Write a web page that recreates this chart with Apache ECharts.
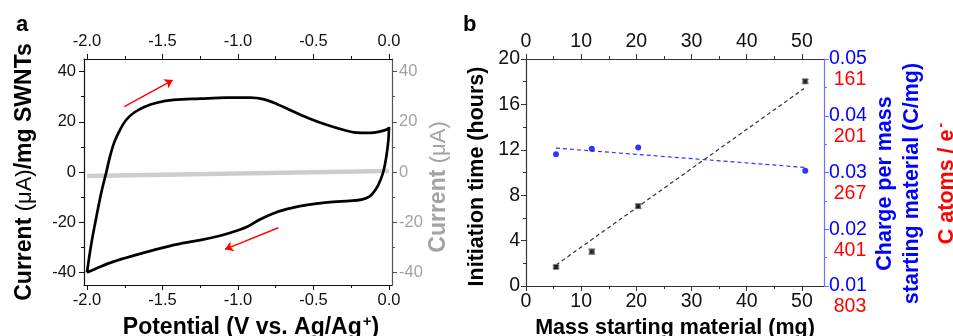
<!DOCTYPE html>
<html>
<head>
<meta charset="utf-8">
<script src="https://cdn.jsdelivr.net/npm/echarts@6/dist/echarts.min.js"></script>
<style>
html,body{margin:0;padding:0;background:#fff;}
#chart{width:953px;height:336px;}
</style>
</head>
<body>
<div id="chart"></div>
<script>
// ---------- Panel a: cyclic voltammogram ----------
const cvPotential = [-2.000,-1.971,-1.938,-1.907,-1.872,-1.846,-1.819,-1.784,-1.740,-1.687,-1.621,-1.537,-1.427,-1.251,-1.075,-0.921,-0.833,-0.744,-0.634,-0.524,-0.414,-0.304,-0.216,-0.128,-0.062,-0.007,0.000,
  -0.004,-0.018,-0.035,-0.057,-0.088,-0.128,-0.183,-0.260,-0.370,-0.480,-0.590,-0.678,-0.767,-0.855,-0.932,-1.009,-1.119,-1.251,-1.405,-1.559,-1.692,-1.824,-1.912,-2.000];
const cvCurrent = [-40.0,-28.4,-17.9,-8.6,0.0,6.6,11.9,16.5,20.8,23.7,25.9,27.6,28.7,29.2,29.6,29.6,29.0,27.1,24.1,21.2,18.8,16.8,15.7,15.6,16.1,17.1,17.9,
  12.6,6.0,0.7,-3.3,-7.0,-9.7,-11.0,-11.5,-11.9,-12.6,-13.6,-14.8,-16.5,-18.9,-21.6,-23.4,-25.4,-27.1,-28.8,-31.1,-33.3,-35.7,-37.7,-40.0];
const blankPotential = [-2.0,-1.5,-1.0,-0.5,0.0];
const blankCurrent = [-1.6,-1.1,-0.6,-0.1,0.4];
const sweepArrowUp = [[-1.753, 26.0], [-1.432, 36.6]];
const sweepArrowDown = [[-0.733, -22.2], [-1.086, -30.8]];
const potentialTicks = [-2.0,-1.5,-1.0,-0.5,0.0];
const potentialMinorTicks = [-1.75,-1.25,-0.75,-0.25];
const currentTicks = [-40,-20,0,20,40];
const currentMinorTicks = [-30,-10,10,30];

// ---------- Panel b: initiation time / charge ----------
const massMg = [5.44, 11.92, 20.33, 50.6];
const initiationHours = [1.68, 3.03, 7.03, 18.03];
const hoursError = [0.12, 0.22, 0.18, 0.18];
const chargePerMass = [0.0332, 0.0342, 0.0344, 0.0303];
const timeFitMass = [5.44, 50.4];
const timeFitHours = [1.85, 17.4];
const chargeFitMass = [5.44, 50.45];
const chargeFitValues = [0.0343, 0.0309];
const massTicks = [0, 10, 20, 30, 40, 50];
const massMinorTicks = [5, 15, 25, 35, 45];
const chargeTicks = [0.01, 0.02, 0.03, 0.04, 0.05];
const carbonPerElectron = ['803', '401', '267', '201', '161'];

const FONT = 'Liberation Sans, Arial, Helvetica, sans-serif';
const chart = echarts.init(document.getElementById('chart'), null, {renderer: 'canvas'});

function fmt1(v) { return (Math.abs(v) < 1e-9 ? 0 : v).toFixed(1); }

const leftAxisColor = '#111';
const grayLabel = '#a3a3a3';
const blue = '#0000ff';
const red = '#ff0000';
const FS_A = 16.5;
const FS_B = 19.5;

function minorAxis(base, values, color) {
  return Object.assign({
    type: 'value',
    axisLine: {show: false, onZero: false}, axisLabel: {show: false}, splitLine: {show: false},
    axisTick: {show: true, customValues: values, length: 3, lineStyle: {color: color}}
  }, base);
}

const option = {
  animation: false,
  backgroundColor: '#fff',
  textStyle: {fontFamily: FONT},
  title: [
    {text: 'a', left: 16, top: 14, padding: 0, textStyle: {fontSize: 22, fontWeight: 'bold', color: '#000', fontFamily: FONT}},
    {text: 'b', left: 463, top: 14, padding: 0, textStyle: {fontSize: 22, fontWeight: 'bold', color: '#000', fontFamily: FONT}}
  ],
  grid: [
    {left: 84, top: 59, width: 308, height: 226, containLabel: false, outerBoundsMode: 'none'},
    {left: 526, top: 59, width: 298, height: 227, containLabel: false, outerBoundsMode: 'none'}
  ],
  xAxis: [
    { // 0 panel a bottom
      type: 'value', gridIndex: 0, position: 'bottom', min: -2.02, max: 0.02,
      axisLine: {show: true, onZero: false, lineStyle: {color: leftAxisColor, width: 1.2}},
      axisTick: {show: true, customValues: potentialTicks, length: 5, lineStyle: {color: leftAxisColor}},
      axisLabel: {show: true, customValues: potentialTicks, formatter: fmt1, fontSize: FS_A, color: '#111', margin: 7, fontFamily: FONT},
      splitLine: {show: false},
      name: '{b|Potential (V vs. Ag/Ag}{sup|+}{b|)}',
      nameLocation: 'middle', nameGap: 25,
      nameTextStyle: {padding: [0, 0, 0, 26], rich: {
        b: {fontSize: 23, fontWeight: 'bold', color: '#000', fontFamily: FONT},
        sup: {fontSize: 15, fontWeight: 'bold', color: '#000', fontFamily: FONT, padding: [0, 0, 12, 1]}
      }}
    },
    { // 1 panel a top
      type: 'value', gridIndex: 0, position: 'top', min: -2.02, max: 0.02,
      axisLine: {show: true, onZero: false, lineStyle: {color: leftAxisColor, width: 1.2}},
      axisTick: {show: true, customValues: potentialTicks, length: 5, lineStyle: {color: leftAxisColor}},
      axisLabel: {show: true, customValues: potentialTicks, formatter: fmt1, fontSize: FS_A, color: '#111', margin: 9, fontFamily: FONT},
      splitLine: {show: false}
    },
    minorAxis({gridIndex: 0, position: 'bottom', min: -2.02, max: 0.02}, potentialMinorTicks, leftAxisColor), // 2
    minorAxis({gridIndex: 0, position: 'top', min: -2.02, max: 0.02}, potentialMinorTicks, leftAxisColor),    // 3
    { // 4 panel b bottom
      type: 'value', gridIndex: 1, position: 'bottom', min: 0, max: 54,
      axisLine: {show: true, onZero: false, lineStyle: {color: '#333', width: 1.2}},
      axisTick: {show: true, customValues: massTicks, length: 5, lineStyle: {color: '#333'}},
      axisLabel: {customValues: massTicks, fontSize: FS_B, color: '#111', margin: 6, fontFamily: FONT},
      splitLine: {show: false},
      name: 'Mass starting material (mg)', nameLocation: 'middle', nameGap: 25,
      nameTextStyle: {fontSize: 21.5, fontWeight: 'bold', color: '#000', fontFamily: FONT}
    },
    { // 5 panel b top
      type: 'value', gridIndex: 1, position: 'top', min: 0, max: 54,
      axisLine: {show: true, onZero: false, lineStyle: {color: '#333', width: 1.2}},
      axisTick: {show: true, customValues: massTicks, length: 5, lineStyle: {color: '#333'}},
      axisLabel: {customValues: massTicks, fontSize: FS_B, color: '#111', margin: 7, fontFamily: FONT},
      splitLine: {show: false}
    },
    minorAxis({gridIndex: 1, position: 'bottom', min: 0, max: 54}, massMinorTicks, '#333'), // 6
    minorAxis({gridIndex: 1, position: 'top', min: 0, max: 54}, massMinorTicks, '#333')     // 7
  ],
  yAxis: [
    { // 0 panel a left
      type: 'value', gridIndex: 0, position: 'left', min: -45, max: 45,
      axisLine: {show: true, onZero: false, lineStyle: {color: leftAxisColor, width: 1.2}},
      axisTick: {show: true, customValues: currentTicks, length: 5, lineStyle: {color: leftAxisColor}},
      axisLabel: {show: true, customValues: currentTicks, fontSize: FS_A, color: '#111', margin: 8, fontFamily: FONT},
      splitLine: {show: false},
      name: '{b|Current }{m|(μA)}{b|/mg SWNTs}',
      nameLocation: 'middle', nameGap: 48,
      nameTextStyle: {rich: {
        b: {fontSize: 23, fontWeight: 'bold', color: '#000', fontFamily: FONT},
        m: {fontSize: 22, fontWeight: 'normal', color: '#000', fontFamily: FONT}
      }}
    },
    { // 1 panel a right (gray)
      type: 'value', gridIndex: 0, position: 'right', min: -45, max: 45,
      axisLine: {show: true, onZero: false, lineStyle: {color: '#555', width: 1.2}},
      axisTick: {show: true, customValues: currentTicks, length: 5, lineStyle: {color: '#555'}},
      axisLabel: {show: true, customValues: currentTicks, fontSize: FS_A, color: grayLabel, margin: 7, fontFamily: FONT},
      splitLine: {show: false},
      name: '{b|Current }{m|(μA)}',
      nameLocation: 'middle', nameGap: 35,
      nameTextStyle: {padding: [0, 30, 0, 0], rich: {
        b: {fontSize: 23, fontWeight: 'bold', color: grayLabel, fontFamily: FONT},
        m: {fontSize: 22, fontWeight: 'normal', color: grayLabel, fontFamily: FONT}
      }}
    },
    minorAxis({gridIndex: 0, position: 'left', min: -45, max: 45}, currentMinorTicks, leftAxisColor), // 2
    minorAxis({gridIndex: 0, position: 'right', min: -45, max: 45}, currentMinorTicks, '#555'),       // 3
    { // 4 panel b left
      type: 'value', gridIndex: 1, position: 'left', min: 0, max: 20, interval: 4,
      axisLine: {show: true, onZero: false, lineStyle: {color: '#333', width: 1.2}},
      axisTick: {show: true, length: 5, lineStyle: {color: '#333'}},
      minorTick: {show: true, splitNumber: 2, length: 3, lineStyle: {color: '#333'}},
      axisLabel: {fontSize: FS_B, color: '#111', margin: 6, fontFamily: FONT},
      splitLine: {show: false}, minorSplitLine: {show: false},
      name: 'Initiation time (hours)', nameLocation: 'middle', nameGap: 38,
      nameTextStyle: {fontSize: 21.5, fontWeight: 'bold', color: '#000', fontFamily: FONT, padding: [0, 8, 0, 0]}
    },
    { // 5 panel b right blue
      type: 'value', gridIndex: 1, position: 'right', min: 0.01, max: 0.05, interval: 0.01,
      axisLine: {show: true, onZero: false, lineStyle: {color: '#6f6fff', width: 1.2}},
      axisTick: {show: true, length: 5, lineStyle: {color: '#6f6fff'}},
      minorTick: {show: true, splitNumber: 2, length: 3, lineStyle: {color: '#6f6fff'}},
      axisLabel: {fontSize: FS_B, color: blue, margin: 5, fontFamily: FONT, formatter: v => v.toFixed(2)},
      splitLine: {show: false}, minorSplitLine: {show: false},
      name: 'Charge per mass\nstarting material (C/mg)', nameLocation: 'middle', nameGap: 48,
      nameTextStyle: {fontSize: 21.5, fontWeight: 'bold', color: blue, lineHeight: 27, fontFamily: FONT, padding: [0, 22, 0, 0]}
    },
    { // 6 panel b right red (C atoms per electron)
      type: 'value', gridIndex: 1, position: 'right', min: 0.01, max: 0.05, interval: 0.01,
      axisLine: {show: false, onZero: false}, axisTick: {show: false},
      axisLabel: {margin: 26, align: 'center', fontFamily: FONT,
        formatter: v => '{r|' + (carbonPerElectron[Math.round((v - chargeTicks[0]) / 0.01)] || '') + '}',
        rich: {r: {fontSize: FS_B, color: red, fontFamily: FONT, padding: [42, 0, 0, 0]}}},
      splitLine: {show: false},
      name: '{b|C atoms / e}{sup|-}', nameLocation: 'middle', nameGap: 110,
      nameTextStyle: {padding: [0, 22, 0, 0], rich: {
        b: {fontSize: 21.5, fontWeight: 'bold', color: red, fontFamily: FONT},
        sup: {fontSize: 14, fontWeight: 'bold', color: red, fontFamily: FONT, padding: [0, 0, 12, 2]}
      }}
    }
  ],
  series: [
    {
      name: 'blank', type: 'line', xAxisIndex: 0, yAxisIndex: 1,
      data: blankPotential.map((v, i) => [v, blankCurrent[i]]),
      symbol: 'none', lineStyle: {color: '#cdcdcd', width: 4.5}, silent: true, z: 2
    },
    {
      name: 'CV', type: 'line', xAxisIndex: 0, yAxisIndex: 0,
      data: cvPotential.map((v, i) => [v, cvCurrent[i]]),
      symbol: 'none', smooth: 0.35, lineStyle: {color: '#000', width: 2.7}, silent: true, z: 3,
      markLine: {
        silent: true, symbol: ['none', 'arrow'], symbolSize: 8,
        label: {show: false},
        lineStyle: {color: red, width: 1.4, type: 'solid'},
        emphasis: {disabled: true},
        data: [
          [{coord: sweepArrowUp[0]}, {coord: sweepArrowUp[1]}],
          [{coord: sweepArrowDown[0]}, {coord: sweepArrowDown[1]}]
        ]
      }
    },
    {
      name: 'time fit', type: 'line', xAxisIndex: 4, yAxisIndex: 4,
      data: timeFitMass.map((v, i) => [v, timeFitHours[i]]),
      symbol: 'none', lineStyle: {color: '#333', width: 1.2, type: [4, 3]}, silent: true, z: 2
    },
    {
      name: 'charge fit', type: 'line', xAxisIndex: 4, yAxisIndex: 5,
      data: chargeFitMass.map((v, i) => [v, chargeFitValues[i]]),
      symbol: 'none', lineStyle: {color: '#3333ff', width: 1.2, type: [4, 3]}, silent: true, z: 2
    },
    {
      name: 'time error', type: 'custom', xAxisIndex: 4, yAxisIndex: 4,
      data: massMg.map((m, i) => [m, initiationHours[i], hoursError[i]]),
      renderItem: function (params, api) {
        const x = api.value(0), y = api.value(1), e = api.value(2);
        const top = api.coord([x, y + e]);
        const bot = api.coord([x, y - e]);
        const hw = 3.5;
        const st = {stroke: '#8c8c8c', lineWidth: 1.3};
        return {type: 'group', children: [
          {type: 'line', shape: {x1: top[0], y1: top[1], x2: bot[0], y2: bot[1]}, style: st},
          {type: 'line', shape: {x1: top[0] - hw, y1: top[1], x2: top[0] + hw, y2: top[1]}, style: st},
          {type: 'line', shape: {x1: bot[0] - hw, y1: bot[1], x2: bot[0] + hw, y2: bot[1]}, style: st}
        ]};
      },
      silent: true, z: 3
    },
    {
      name: 'initiation time', type: 'scatter', xAxisIndex: 4, yAxisIndex: 4,
      data: massMg.map((m, i) => [m, initiationHours[i]]),
      symbol: 'rect', symbolSize: 5, itemStyle: {color: '#000', borderColor: '#7a7a7a', borderWidth: 1}, silent: true, z: 4
    },
    {
      name: 'charge per mass', type: 'scatter', xAxisIndex: 4, yAxisIndex: 5,
      data: massMg.map((m, i) => [m, chargePerMass[i]]),
      symbol: 'circle', symbolSize: 6, itemStyle: {color: '#0000ff'}, silent: true, z: 4
    }
  ]
};
chart.setOption(option);
</script>
</body>
</html>
